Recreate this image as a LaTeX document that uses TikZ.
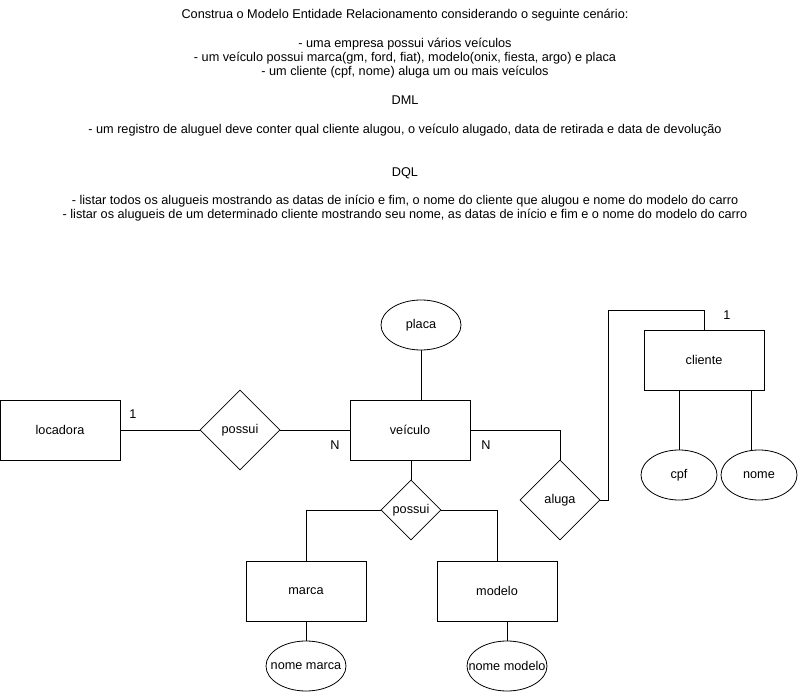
\documentclass[tikz,border=0pt]{standalone}
\usepackage{fontspec}
\setmainfont{Liberation Sans}
\usetikzlibrary{shapes.geometric}

\begin{document}
\begin{tikzpicture}[x=1pt, y=-1pt, line width=0.8pt,
    font=\fontsize{12.7}{14.3}\selectfont,
    entity/.style={draw, rectangle, minimum width=120, minimum height=60, inner sep=0},
    relation/.style={draw, diamond, minimum width=#1, minimum height=#1, inner sep=0},
    relation/.default=80,
    attrib/.style={draw, ellipse, minimum width=#1, minimum height=50, inner sep=0, inner xsep=-12pt},
    attrib/.default=80]
    \useasboundingbox (0, 0) rectangle (798, 692); % page size
    % enunciado
    \node[align=center, anchor=north, inner sep=0] (enunciado) at (405, 9) {%
        Construa o Modelo Entidade Relacionamento considerando o seguinte cenário:\\[14.3pt]
        - uma empresa possui vários veículos\\
        - um veículo possui marca(gm, ford, fiat), modelo(onix, fiesta, argo) e placa\\
        - um cliente (cpf, nome) aluga um ou mais veículos\\[14.3pt]
        DML\\[14.3pt]
        - um registro de aluguel deve conter qual cliente alugou, o veículo alugado, data de retirada e data de devolução\\[28.6pt]
        DQL\\[14.3pt]
        - listar todos os alugueis mostrando as datas de início e fim, o nome do cliente que alugou e nome do modelo do carro\\
        - listar os alugueis de um determinado cliente mostrando seu nome, as datas de início e fim e o nome do modelo do carro};
    % entidades
    \node[entity] (loc) at (60, 430) {locadora};
    \node[entity] (vei) at (410, 430) {veículo};
    \node[entity] (cli) at (704, 360) {cliente};
    \node[entity] (mar) at (306, 591) {marca};
    \node[entity] (mod) at (497, 591) {modelo};
    % relacionamentos
    \node[relation] (pos) at (240, 430) {possui};
    \node[relation] (alu) at (560, 500) {aluga};
    \node[relation=60] (pmm) at (411, 510) {possui};
    % atributos
    \node[attrib] (plac) at (421, 325) {placa};
    \node[attrib=76] (cpf) at (679, 475) {cpf};
    \node[attrib=76] (nom) at (759, 475) {nome};
    \node[attrib] (nmar) at (306, 666) {nome marca};
    \node[attrib] (nmod) at (507, 666) {nome modelo};
    \coordinate (dobra) at (608, 310);
    % ligacoes
    \draw (loc) -- (pos);
    \draw (pos) -- (vei);
    \draw (plac.south) -- (plac.south |- vei.north);
    \draw (vei.east) -| (alu.north);
    \draw (alu.east) -| (dobra) -| (cli.north);
    \draw (vei.south -| pmm.north) -- (pmm.north);
    \draw (pmm.west) -| (mar.north);
    \draw (pmm.east) -| (mod.north);
    \draw (mar.south) -- (nmar.north);
    \draw (nmod.north |- mod.south) -- (nmod.north);
    \draw (cpf.north |- cli.south) -- (cpf.north);
    \draw ([xshift=-8pt]nom.north |- cli.south) -- ([xshift=-8pt]nom.north);
    % cardinalidades
    \node (c1) at (133, 414) {1};
    \node (c2) at (335, 445) {N};
    \node (c3) at (486, 445) {N};
    \node (c4) at (727, 315) {1};
\end{tikzpicture}
\end{document}
